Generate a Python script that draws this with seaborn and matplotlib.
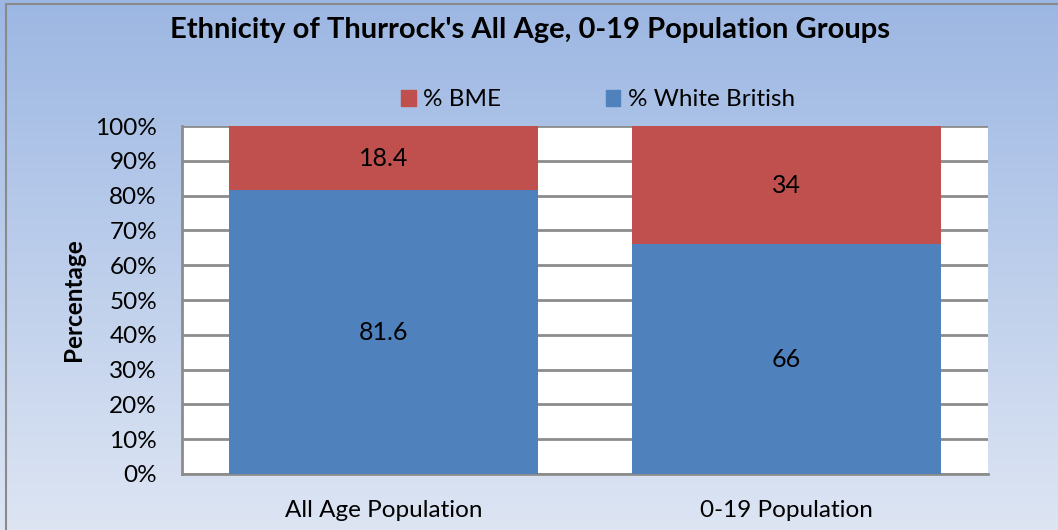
import numpy as np
import matplotlib
matplotlib.use("Agg")
import matplotlib.pyplot as plt
import seaborn as sns
from matplotlib.patches import Rectangle

categories = ["All Age Population", "0-19 Population"]
white_british = [81.6, 66]
bme = [18.4, 34]
series_names = ["% BME", "% White British"]
y_ticks = [0, 10, 20, 30, 40, 50, 60, 70, 80, 90, 100]

RED = "#C0504D"
BLUE = "#4F81BD"
GRID = "#8C8C8C"
FS = 17.5

sns.set_theme(style="white")
plt.rcParams["font.family"] = ["Lato", "DejaVu Sans"]
plt.rcParams["text.color"] = "black"

fig = plt.figure(figsize=(10.58, 5.30), dpi=100)

# vertical gradient backdrop
bg = fig.add_axes([0, 0, 1, 1], zorder=-10)
grad = np.linspace(0, 1, 256).reshape(-1, 1)
top = np.array([0x9C, 0xB7, 0xE3]) / 255
bot = np.array([0xDD, 0xE5, 0xF3]) / 255
img = top + (bot - top) * grad[..., None]
bg.imshow(img, aspect="auto", extent=[0, 1, 0, 1], origin="upper")
bg.add_patch(Rectangle((6 / 1058, -0.01), 1.1, 1 - 4 / 530 + 0.01,
                       fill=False, edgecolor="#8A8A8A", linewidth=1.5,
                       transform=bg.transAxes))
bg.set_xlim(0, 1)
bg.set_ylim(0, 1)
bg.axis("off")

ax = fig.add_axes([182 / 1058, 1 - 474 / 530, 806 / 1058, 348 / 530])
ax.set_facecolor("white")

totals = [w + b for w, b in zip(white_british, bme)]
sns.barplot(x=categories, y=totals, color=RED, saturation=1, width=0.767,
            ax=ax, zorder=2)
sns.barplot(x=categories, y=white_british, color=BLUE, saturation=1,
            width=0.767, ax=ax, zorder=3)
for p in ax.patches:
    p.set_linewidth(0)

ax.set_ylim(0, 100)
ax.set_xlim(-0.5, 1.5)
ax.set_yticks(y_ticks)
ax.set_yticklabels([f"{t}%" for t in y_ticks])
ax.yaxis.grid(True, color=GRID, linewidth=2, zorder=0)
ax.set_axisbelow(True)
ax.tick_params(axis="both", length=0, labelsize=FS, colors="black")
ax.tick_params(axis="y", pad=18)
ax.tick_params(axis="x", pad=19)
for side in ["top", "right"]:
    ax.spines[side].set_visible(False)
for side in ["left", "bottom"]:
    ax.spines[side].set_color(GRID)
    ax.spines[side].set_linewidth(2)
ax.set_xlabel("")
ax.set_ylabel("Percentage", fontsize=FS, fontweight="bold", color="black", labelpad=7)

for i, (w, b) in enumerate(zip(white_british, bme)):
    ax.text(i, w / 2, f"{w:g}", ha="center", va="center", fontsize=18, color="black", zorder=5)
    ax.text(i, w + b / 2, f"{b:g}", ha="center", va="center", fontsize=18, color="black", zorder=5)

fig.text(530 / 1058, 1 - 30 / 530, "Ethnicity of Thurrock's All Age, 0-19 Population Groups",
         ha="center", va="center", fontsize=21, fontweight="bold", color="black")

# legend
handles = [Rectangle((0, 0), 1, 1, color=RED), Rectangle((0, 0), 1, 1, color=BLUE)]
leg = fig.legend(handles, series_names, loc="center", bbox_to_anchor=(598 / 1058, 1 - 100 / 530),
                 ncol=2, frameon=False, fontsize=FS, handlelength=0.6, handleheight=0.6,
                 handletextpad=0.3, columnspacing=4.3)
for t in leg.get_texts():
    t.set_color("black")

fig.savefig("out.png", dpi=100)
